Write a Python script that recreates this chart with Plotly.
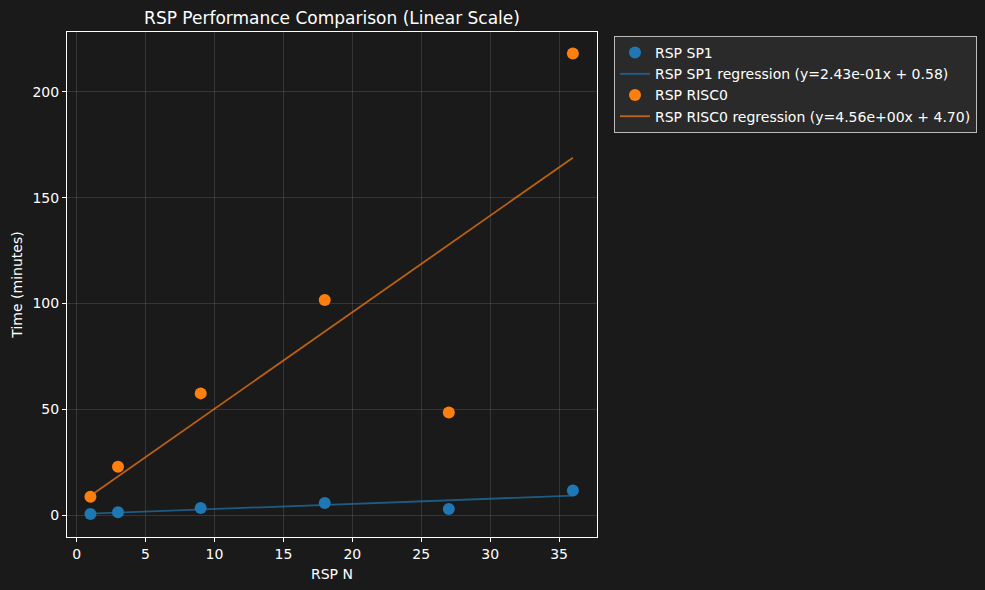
import plotly.graph_objects as go

rsp_n = [1, 3, 9, 18, 27, 36]
sp1_minutes = [0.7, 1.5, 3.5, 5.9, 3.0, 11.8]
risc0_minutes = [8.8, 23.0, 57.6, 101.7, 48.6, 218.0]

sp1_fit = {"slope": 0.243, "intercept": 0.58}
risc0_fit = {"slope": 4.56, "intercept": 4.70}

x_ticks = [0, 5, 10, 15, 20, 25, 30, 35]
y_ticks = [0, 50, 100, 150, 200]

BLUE = "#1f77b4"
ORANGE = "#ff7f0e"
BG = "#1a1a1a"
FONT = "DejaVu Sans"

fit_x = [min(rsp_n), max(rsp_n)]

fig = go.Figure()

fig.add_trace(go.Scatter(
    x=rsp_n, y=sp1_minutes, mode="markers", name="RSP SP1",
    marker=dict(color=BLUE, size=12, line=dict(width=0)),
))
fig.add_trace(go.Scatter(
    x=fit_x, y=[sp1_fit["slope"] * v + sp1_fit["intercept"] for v in fit_x],
    mode="lines",
    name=f"RSP SP1 regression (y={sp1_fit['slope']:.2e}x + {sp1_fit['intercept']:.2f})",
    line=dict(color="rgba(31,119,180,0.7)", width=1.8),
))
fig.add_trace(go.Scatter(
    x=rsp_n, y=risc0_minutes, mode="markers", name="RSP RISC0",
    marker=dict(color=ORANGE, size=12, line=dict(width=0)),
))
fig.add_trace(go.Scatter(
    x=fit_x, y=[risc0_fit["slope"] * v + risc0_fit["intercept"] for v in fit_x],
    mode="lines",
    name=f"RSP RISC0 regression (y={risc0_fit['slope']:.2e}x + {risc0_fit['intercept']:.2f})",
    line=dict(color="rgba(255,127,14,0.7)", width=1.8),
))

axis_common = dict(
    showline=True, linecolor="white", linewidth=1, mirror=True,
    ticks="outside", tickcolor="white", ticklen=4, tickwidth=1,
    showgrid=True, gridcolor="rgba(255,255,255,0.12)", gridwidth=1,
    zeroline=False, tickfont=dict(color="white", size=14, family=FONT),
    title_font=dict(color="white", size=14, family=FONT),
    automargin=False,
)

fig.update_layout(
    width=985, height=590,
    paper_bgcolor=BG, plot_bgcolor=BG,
    margin=dict(l=67, r=388, t=32, b=53, autoexpand=False),
    font=dict(family=FONT, color="white", size=14),
    title=dict(text="RSP Performance Comparison (Linear Scale)",
               x=(67 + 597) / 2 / 985, xanchor="center",
               y=1 - 18 / 590, yanchor="middle", yref="container",
               font=dict(size=17, color="white", family=FONT)),
    xaxis=dict(axis_common, range=[-0.7, 37.75], tickvals=x_ticks,
               title=dict(text="RSP N", standoff=8)),
    yaxis=dict(axis_common, range=[-10.2, 228.2], tickvals=y_ticks,
               title=dict(text="Time (minutes)", standoff=6)),
    legend=dict(x=(614 - 67) / 530, y=(537 - 36) / 505, xanchor="left", yanchor="top",
                bgcolor="#2a2a2a", bordercolor="#bbbbbb", borderwidth=1,
                font=dict(color="white", size=14, family=FONT),
                tracegroupgap=0, itemwidth=30),
    showlegend=True,
)

fig.write_html("out.html", config={"displayModeBar": False},
               post_script="document.body.style.margin='0';")
